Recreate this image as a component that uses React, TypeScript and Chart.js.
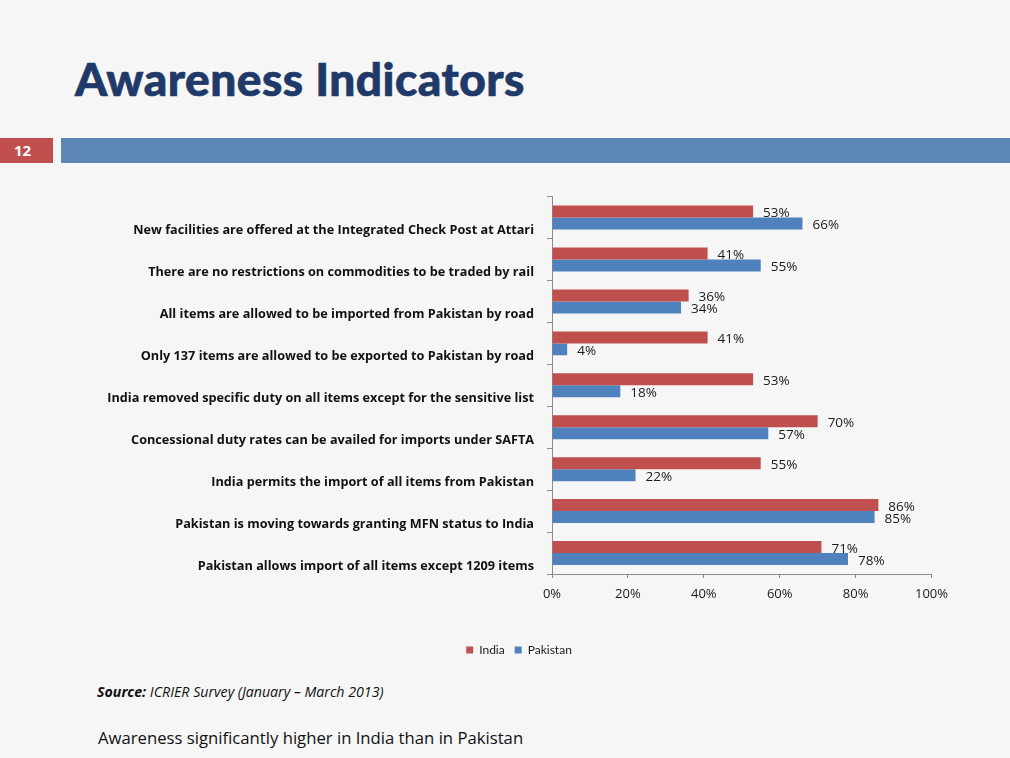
import React, { useEffect, useRef } from "react";
import { Chart, registerables } from "chart.js";

Chart.register(...registerables);

const categories = [
  "New facilities are offered at the Integrated Check Post at Attari",
  "There are no restrictions on commodities to be traded by rail",
  "All items are allowed to be imported from Pakistan by road",
  "Only 137 items are allowed to be exported to Pakistan by road",
  "India removed specific duty on all items except for the sensitive list",
  "Concessional duty rates can be availed for imports under SAFTA",
  "India permits the import of all items from Pakistan",
  "Pakistan is moving towards granting MFN status to India",
  "Pakistan allows import of all items except 1209 items",
];
const indiaValues = [53, 41, 36, 41, 53, 70, 55, 86, 71];
const pakistanValues = [66, 55, 34, 4, 18, 57, 22, 85, 78];
const xTicks = [0, 20, 40, 60, 80, 100];

const FONT = "Lato, 'Open Sans', 'DejaVu Sans', sans-serif";
const OFONT = "'Open Sans', Lato, 'DejaVu Sans', sans-serif";

const valueLabels = {
  id: "valueLabels",
  afterDatasetsDraw(chart: any) {
    const ctx = chart.ctx;
    ctx.save();
    ctx.font = `13.5px ${OFONT}`;
    ctx.fillStyle = "#1a1a1a";
    ctx.textAlign = "left";
    ctx.textBaseline = "middle";
    chart.data.datasets.forEach((ds: any, di: number) => {
      const meta = chart.getDatasetMeta(di);
      meta.data.forEach((el: any, i: number) => {
        ctx.fillText(ds.data[i] + "%", el.x + 10, el.y + 2);
      });
    });
    ctx.restore();
  },
};

export default function App() {
  const ref = useRef<HTMLCanvasElement>(null);
  useEffect(() => {
    const prevMargin = document.body.style.margin;
    document.body.style.margin = "0";
    const padL = 82;
    const chart = new Chart(ref.current!, {
      type: "bar",
      data: {
        labels: categories,
        datasets: [
          {
            label: "India",
            data: indiaValues,
            backgroundColor: "#C0504D",
            borderWidth: 0,
          },
          {
            label: "Pakistan",
            data: pakistanValues,
            backgroundColor: "#4F81BD",
            borderWidth: 0,
          },
        ],
      },
      options: {
        indexAxis: "y",
        responsive: false,
        animation: false,
        maintainAspectRatio: false,
        layout: { padding: { top: 4, left: padL, right: 0, bottom: 0 } },
        datasets: {
          bar: { categoryPercentage: 24 / 42, barPercentage: 1.0 },
        },
        scales: {
          x: {
            min: 0,
            max: 100,
            afterBuildTicks(scale: any) {
              scale.ticks = xTicks.map((v) => ({ value: v }));
            },
            afterFit(scale: any) {
              scale.height = 60;
            },
            ticks: {
              callback: (v: any) => v + "%",
              font: { family: OFONT, size: 13 },
              color: "#1a1a1a",
              padding: 8,
            },
            grid: {
              drawOnChartArea: false,
              drawTicks: true,
              tickLength: 4,
              color: "#8c8c8c",
            },
            border: { color: "#8c8c8c", width: 1 },
          },
          y: {
            afterFit(scale: any) {
              scale.width = 552 - padL;
            },
            ticks: {
              font: { family: OFONT, size: 12.7, weight: "bold" },
              color: "#111",
              padding: 13,
              labelOffset: 13,
            },
            grid: {
              drawOnChartArea: false,
              drawTicks: true,
              tickLength: 5,
              color: "#8c8c8c",
              offset: true,
            },
            border: { color: "#8c8c8c", width: 1 },
          },
        },
        plugins: {
          legend: {
            position: "bottom",
            labels: {
              boxWidth: 7,
              boxHeight: 7,
              font: { family: FONT, size: 12 },
              color: "#1a1a1a",
              padding: 10,
            },
          },
          tooltip: { enabled: false },
        },
      } as any,
      plugins: [valueLabels],
    });
    return () => {
      chart.destroy();
      document.body.style.margin = prevMargin;
    };
  }, []);

  return (
    <div
      style={{
        position: "fixed",
        left: 0,
        top: 0,
        width: 1010,
        height: 758,
        background: "#F6F6F6",
        overflow: "hidden",
        fontFamily: FONT,
      }}
    >
      <div
        style={{
          position: "absolute",
          left: 75,
          top: 52,
          fontSize: 46,
          fontWeight: 900,
          color: "#1F3A68",
          WebkitTextStroke: "0.7px #1F3A68",
          letterSpacing: "0.5px",
          lineHeight: "54px",
          whiteSpace: "nowrap",
        }}
      >
        Awareness Indicators
      </div>
      <div
        style={{
          position: "absolute",
          left: 0,
          top: 138,
          width: 53,
          height: 25,
          background: "#C0504D",
          color: "#fff",
          fontFamily: OFONT,
          fontWeight: 700,
          fontSize: 15,
          lineHeight: "25px",
          textIndent: 14,
        }}
      >
        12
      </div>
      <div
        style={{
          position: "absolute",
          left: 61,
          top: 138,
          width: 949,
          height: 25,
          background: "#5B86B5",
        }}
      />
      <canvas
        ref={ref}
        width={956}
        height={490}
        style={{ position: "absolute", left: 0, top: 176, width: 956, height: 490 }}
      />
      <div
        style={{
          position: "absolute",
          left: 97,
          top: 683,
          fontSize: 14.2,
          fontFamily: OFONT,
          fontStyle: "italic",
          color: "#111",
          whiteSpace: "nowrap",
          lineHeight: "18px",
        }}
      >
        <b>Source:</b> ICRIER Survey (January – March 2013)
      </div>
      <div
        style={{
          position: "absolute",
          left: 98,
          top: 727,
          fontSize: 16.7,
          fontFamily: OFONT,
          color: "#111",
          whiteSpace: "nowrap",
          lineHeight: "22px",
        }}
      >
        Awareness significantly higher in India than in Pakistan
      </div>
    </div>
  );
}
